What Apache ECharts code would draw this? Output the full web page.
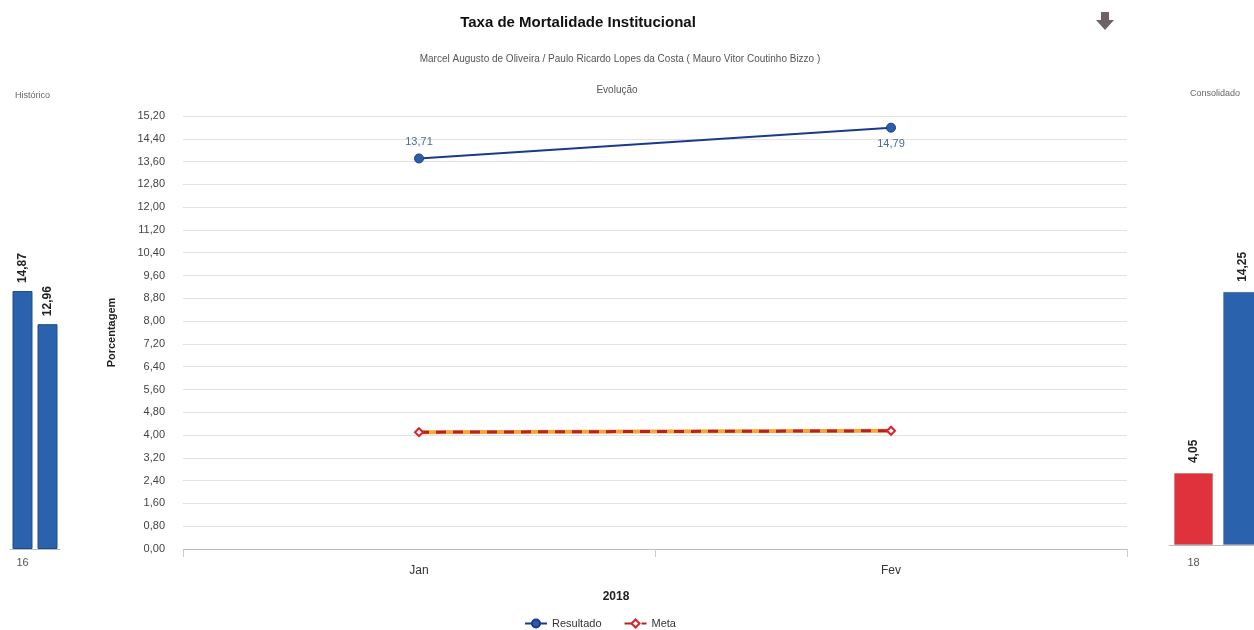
<!DOCTYPE html>
<html>
<head>
<meta charset="utf-8">
<script src="https://cdn.jsdelivr.net/npm/echarts@6/dist/echarts.min.js"></script>
<style>html,body{margin:0;padding:0;background:#fff}#c{width:1254px;height:630px}</style>
</head>
<body>
<div id="c"></div>
<script>
const months = ['Jan', 'Fev'];
const resultado = [13.71, 14.79];
const meta = [4.1, 4.15];
const histCats = ['16', ''];
const histValues = [14.87, 12.96];
const consCats = ['18', ''];
const consValues = [4.05, 14.25];
const yMin = 0, yMax = 15.2, yStep = 0.8;

const FONT = 'Liberation Sans, Arial, sans-serif';
const fmt = v => Number(v).toFixed(2).replace('.', ',');

const chart = echarts.init(document.getElementById('c'), null, {renderer: 'canvas'});
chart.setOption({
  animation: false,
  textStyle: {fontFamily: FONT},
  title: [
    {text: 'Taxa de Mortalidade Institucional', left: 573, top: 10, textAlign: 'center',
     textStyle: {fontSize: 15, fontWeight: 'bold', color: '#111', fontFamily: FONT}},
    {text: 'Marcel Augusto de Oliveira / Paulo Ricardo Lopes da Costa ( Mauro Vitor Coutinho Bizzo )', left: 615, top: 49, textAlign: 'center',
     textStyle: {fontSize: 10, fontWeight: 'normal', color: '#555', fontFamily: FONT}},
    {text: 'Evolução', left: 612, top: 80, textAlign: 'center',
     textStyle: {fontSize: 10, fontWeight: 'normal', color: '#555', fontFamily: FONT}},
    {text: 'Histórico', left: 10, top: 86,
     textStyle: {fontSize: 9, fontWeight: 'normal', color: '#666', fontFamily: FONT}},
    {text: 'Consolidado', left: 1185, top: 84,
     textStyle: {fontSize: 9, fontWeight: 'normal', color: '#666', fontFamily: FONT}},
    {text: '2018', left: 611, top: 586, textAlign: 'center',
     textStyle: {fontSize: 12, fontWeight: 'bold', color: '#222', fontFamily: FONT}}
  ],
  legend: {
    data: [{name: 'Resultado'}, {name: 'Meta'}],
    left: 519, top: 613, itemWidth: 22, itemHeight: 10, itemGap: 22,
    textStyle: {fontSize: 11, color: '#333', fontFamily: FONT}
  },
  graphic: [
    {type: 'polygon', shape: {points: [[1101,12],[1109,12],[1109,20],[1114,20],[1105,30],[1096,20],[1101,20]]},
     style: {fill: '#6e6266'}}
  ],
  grid: [
    {left: 183, right: 127, top: 116, bottom: 81, outerBoundsMode: 'none'},
    {left: 10, width: 50, top: 98, bottom: 81, outerBoundsMode: 'none'},
    {left: 1169, width: 98, top: 92, bottom: 85, outerBoundsMode: 'none'}
  ],
  xAxis: [
    {type: 'category', gridIndex: 0, data: months, boundaryGap: true,
     axisLine: {lineStyle: {color: '#bbb'}},
     axisTick: {show: true, length: 8, lineStyle: {color: '#ccc'}},
     axisLabel: {fontSize: 12, color: '#333', margin: 16, fontFamily: FONT}},
    {type: 'category', gridIndex: 1, data: histCats,
     axisLine: {lineStyle: {color: '#bbb'}}, axisTick: {show: false},
     axisLabel: {fontSize: 11, color: '#555', margin: 8, fontFamily: FONT}},
    {type: 'category', gridIndex: 2, data: consCats,
     axisLine: {lineStyle: {color: '#bbb'}}, axisTick: {show: false},
     axisLabel: {fontSize: 11, color: '#555', margin: 12, fontFamily: FONT}}
  ],
  yAxis: [
    {type: 'value', gridIndex: 0, min: yMin, max: yMax, interval: yStep,
     name: 'Porcentagem', nameLocation: 'middle', nameGap: 66, nameRotate: 90,
     nameTextStyle: {fontSize: 11, fontWeight: 'bold', color: '#222', fontFamily: FONT},
     axisLine: {show: false}, axisTick: {show: false},
     axisLabel: {formatter: fmt, fontSize: 11, color: '#444', margin: 18, fontFamily: FONT},
     splitLine: {lineStyle: {color: '#e2e2e2'}}},
    {type: 'value', gridIndex: 1, min: 0, max: 26, show: false, splitLine: {show: false}},
    {type: 'value', gridIndex: 2, min: 0, max: 25.5, show: false, splitLine: {show: false}}
  ],
  series: [
    {name: 'Resultado', type: 'line', xAxisIndex: 0, yAxisIndex: 0,
     data: resultado.map((v, i) => ({value: v, label: {position: i === 0 ? 'top' : 'bottom'}})),
     symbol: 'circle', symbolSize: 9,
     lineStyle: {color: '#1b3a8c', width: 2},
     itemStyle: {color: '#2c5ea8', borderColor: '#1b3a8c', borderWidth: 1},
     label: {show: true, formatter: p => fmt(p.value), fontSize: 11, color: '#4a6aa0', fontFamily: FONT, distance: 6},
     z: 5},
    {name: 'MetaBase', type: 'line', xAxisIndex: 0, yAxisIndex: 0, data: meta,
     symbol: 'none', lineStyle: {color: '#f2a93b', width: 4}, z: 3, silent: true},
    {name: 'Meta', type: 'line', xAxisIndex: 0, yAxisIndex: 0, data: meta,
     symbol: 'diamond', symbolSize: 8, showAllSymbol: true,
     lineStyle: {color: '#b81f28', width: 3, type: [10, 7]},
     itemStyle: {color: '#fff', borderColor: '#d8232d', borderWidth: 2},
     z: 4},
    {name: 'Histórico', type: 'bar', xAxisIndex: 1, yAxisIndex: 1,
     data: histValues.map(v => ({value: v})), barWidth: 20,
     itemStyle: {color: '#2b62ad', borderColor: '#1d4a8a', borderWidth: 1},
     label: {show: true, position: 'top', rotate: 90, align: 'left', verticalAlign: 'middle', distance: 8,
             formatter: p => fmt(p.value), fontSize: 12, fontWeight: 'bold', color: '#222', fontFamily: FONT}},
    {name: 'Consolidado', type: 'bar', xAxisIndex: 2, yAxisIndex: 2,
     data: consValues.map((v, i) => ({value: v, itemStyle: {color: i === 0 ? '#e0323c' : '#2b62ad'}})),
     barWidth: 39,
     itemStyle: {borderColor: 'rgba(0,0,0,0.15)', borderWidth: 1},
     label: {show: true, position: 'top', rotate: 90, align: 'left', verticalAlign: 'middle', distance: 10,
             formatter: p => fmt(p.value), fontSize: 12, fontWeight: 'bold', color: '#222', fontFamily: FONT}}
  ]
});
</script>
</body>
</html>
